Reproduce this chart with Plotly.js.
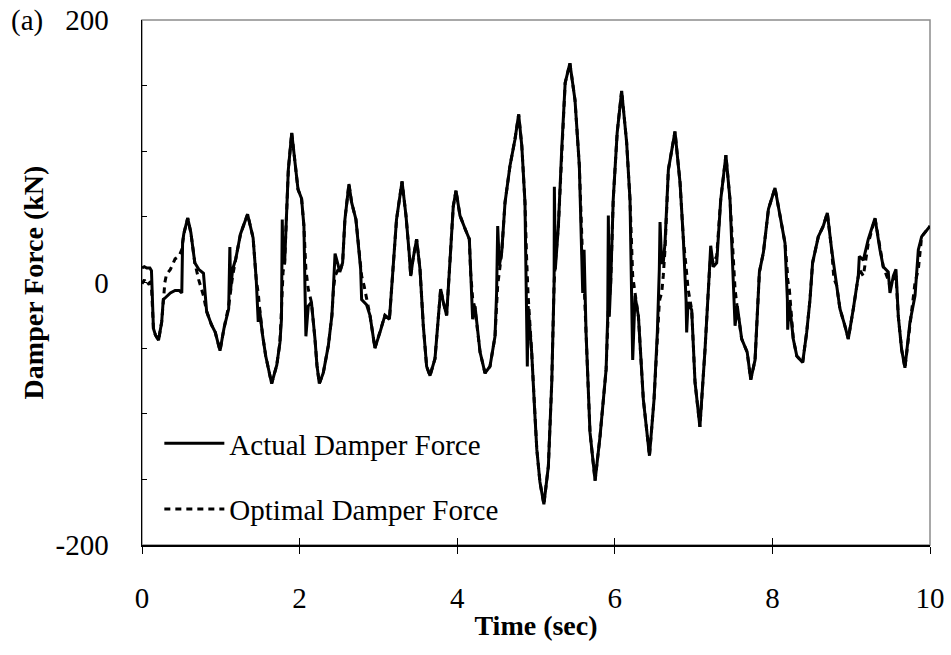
<!DOCTYPE html>
<html>
<head>
<meta charset="utf-8">
<script src="https://cdn.plot.ly/plotly-3.0.1.min.js"></script>
<style>html,body{margin:0;padding:0;background:#fff;}#chart{width:951px;height:655px;}</style>
</head>
<body>
<div id="chart"></div>
<script>
// Time (sec)
var time = [0.00,0.03,0.06,0.10,0.12,0.145,0.17,0.21,0.25,0.27,0.29,0.31,0.36,0.42,0.47,0.505,0.515,0.53,0.58,0.62,0.67,0.72,0.78,0.82,0.88,0.93,0.99,1.04,1.10,1.115,1.125,1.15,1.19,1.25,1.34,1.41,1.45,1.475,1.49,1.53,1.57,1.645,1.71,1.75,1.77,1.78,1.79,1.81,1.835,1.857,1.90,1.94,1.98,2.025,2.055,2.068,2.08,2.11,2.15,2.195,2.22,2.25,2.30,2.365,2.41,2.43,2.45,2.49,2.51,2.546,2.575,2.626,2.66,2.715,2.757,2.775,2.787,2.82,2.85,2.893,2.956,3.02,3.083,3.14,3.18,3.23,3.30,3.35,3.39,3.41,3.44,3.485,3.528,3.57,3.612,3.655,3.718,3.76,3.79,3.824,3.866,3.91,3.95,3.985,4.035,4.10,4.154,4.17,4.196,4.226,4.29,4.353,4.416,4.48,4.50,4.514,4.535,4.565,4.607,4.67,4.733,4.78,4.82,4.86,4.88,4.89,4.90,4.945,4.987,5.01,5.05,5.10,5.157,5.20,5.23,5.233,5.245,5.284,5.326,5.37,5.43,5.495,5.55,5.58,5.593,5.61,5.635,5.685,5.75,5.813,5.89,5.91,5.918,5.93,5.948,5.98,6.03,6.087,6.15,6.193,6.214,6.227,6.257,6.30,6.362,6.44,6.498,6.54,6.565,6.574,6.595,6.615,6.637,6.68,6.764,6.828,6.87,6.904,6.912,6.93,6.976,7.018,7.08,7.145,7.20,7.217,7.25,7.293,7.344,7.41,7.462,7.505,7.526,7.555,7.61,7.68,7.725,7.78,7.835,7.886,7.95,8.033,8.097,8.16,8.19,8.194,8.215,8.265,8.31,8.384,8.435,8.477,8.51,8.583,8.646,8.697,8.752,8.78,8.815,8.857,8.92,8.963,9.027,9.09,9.103,9.154,9.217,9.302,9.365,9.407,9.47,9.492,9.535,9.568,9.598,9.64,9.682,9.746,9.81,9.852,9.894,10.0];

// Actual Damper Force (kN)
var actualForce = [11,12,11,11,9,-35,-40,-44,-30,-13,-12,-11,-8,-6,-6,-8,30,37,49,38,15,10,7,-22,-32,-38,-52,-35,-20,27,-5,10,18,37,52,34,2,-30,-20,-40,-56,-77,-63,-46,-28,48,15,15,48,86,114,91,71,64,43,-3,-41,-18,-15,-43,-63,-77,-69,-48,-25,-3,22,13,8,15,48,75,61,48,25,10,-13,-15,-17,-25,-50,-38,-25,-28,5,48,77,51,23,5,18,33,10,-33,-64,-71,-58,-28,-5,-15,-25,18,58,70,51,41,33,10,-28,-18,-53,-69,-64,-41,-8,43,13,23,61,89,109,128,104,61,-3,-64,-18,-53,-102,-127,-152,-169,-140,-76,0,73,10,43,101,152,167,139,89,33,-8,25,-38,-114,-151,-117,-66,-26,51,-26,0,63,114,146,107,63,0,-59,-10,-26,-89,-132,-89,-38,10,46,15,15,30,86,115,76,33,-13,-38,-15,-21,-76,-110,-51,8,28,12,15,63,97,63,0,-33,-18,-43,-53,-74,-59,8,23,56,72,51,30,-13,-36,-15,-43,-56,-61,-38,-13,15,35,43,53,25,12,0,-20,-33,-43,-20,5,20,17,33,49,25,12,8,-8,5,10,-26,-51,-65,-30,-10,25,35,43];

// Optimal Damper Force (kN)
var optimalForce = [-1,2,-2,0,-3,-35,-40,-44,-30,-13,0,6,10,18,20,25,32,37,49,38,15,2,-10,-22,-32,-38,-52,-35,-18,-10,-4,5,18,37,52,34,2,-8,-18,-40,-56,-77,-63,-46,-20,-5,8,15,48,86,114,91,71,64,43,25,10,-5,-15,-43,-63,-77,-69,-48,-25,-5,5,10,8,15,48,75,61,48,25,15,5,-3,-12,-25,-50,-38,-25,-28,5,48,77,51,23,5,18,33,10,-33,-64,-71,-58,-28,-5,-15,-25,18,58,70,51,41,33,8,-12,-20,-53,-69,-64,-41,-10,-2,8,23,61,89,109,128,104,61,20,5,-10,-53,-102,-127,-152,-169,-140,-76,0,3,15,43,101,152,167,139,89,33,15,0,-38,-114,-151,-117,-66,-26,-20,-14,0,63,114,146,107,63,20,5,-8,-26,-89,-132,-89,-38,-15,-12,-8,5,25,86,115,76,33,12,5,-5,-21,-76,-110,-51,8,20,15,20,63,97,63,12,-5,-20,-43,-53,-74,-59,8,23,56,72,51,30,8,2,-5,-43,-56,-61,-38,-13,15,35,43,53,25,3,-2,-20,-33,-43,-20,5,10,5,30,49,25,12,2,-3,0,5,-26,-51,-65,-30,0,10,35,43];

var seriesNames = ['Actual Damper Force', 'Optimal Damper Force'];
var yTickVals = [-200,-150,-100,-50,0,50,100,150,200];
var yTickText = ['-200','','','','0','','','','200'];
var xTickVals = [0,2,4,6,8,10];

var serif = '"Liberation Serif", "Times New Roman", serif';

var traces = [
  {x: time, y: actualForce, type: 'scatter', mode: 'lines', name: seriesNames[0],
   legendgroup: 'a', line: {color: '#000', width: 3}},
  {x: time, y: optimalForce, type: 'scatter', mode: 'lines', name: seriesNames[1],
   legendgroup: 'b', line: {color: '#000', width: 3, dash: '6px,5px'}}
];

var layout = {
  width: 951, height: 655,
  margin: {l: 142, r: 21, t: 20, b: 110},
  paper_bgcolor: '#fff', plot_bgcolor: '#fff',
  font: {family: serif, size: 29, color: '#000'},
  showlegend: true,
  legend: {x: 0.022, y: 0.242, xanchor: 'left', yanchor: 'top', bgcolor: 'rgba(0,0,0,0)',
           font: {family: serif, size: 29, color: '#000'}, tracegroupgap: 25, itemwidth: 60},
  xaxis: {range: [0, 10], tickvals: xTickVals, ticks: 'outside', ticklen: 7, tickwidth: 1,
          tickcolor: '#000', showline: true, linecolor: '#000', linewidth: 1.5,
          showgrid: false, zeroline: false, ticklabelstandoff: 20,
          tickfont: {family: serif, size: 29, color: '#000'},
          title: {text: '<b>Time (sec)</b>', font: {family: serif, size: 28, color: '#000'}, standoff: 2}},
  xaxis2: {range: [0, 10], overlaying: 'x', anchor: 'y', side: 'bottom', tickvals: xTickVals,
           ticks: 'inside', ticklen: 7, tickwidth: 1, tickcolor: '#000', showticklabels: false,
           showline: false, showgrid: false, zeroline: false},
  yaxis: {range: [-200, 200], tickvals: yTickVals, ticktext: yTickText, ticks: 'inside',
          ticklen: 5, tickwidth: 1, tickcolor: '#000', showline: true, linecolor: '#000',
          linewidth: 1.5, showgrid: false, zeroline: false, ticklabelstandoff: 26,
          tickfont: {family: serif, size: 29, color: '#000'},
          title: {text: '<b>Damper Force (kN)</b>', font: {family: serif, size: 28, color: '#000'}, standoff: 3}},
  shapes: [{type: 'rect', xref: 'paper', yref: 'paper', x0: 0, x1: 1, y0: 0, y1: 1,
            line: {color: '#8c8c8c', width: 1.5}, layer: 'below'}],
  annotations: [{text: '(a)', xref: 'paper', yref: 'paper', x: -0.123, y: 1.0, xanchor: 'right',
                 yanchor: 'middle', showarrow: false, font: {family: serif, size: 29, color: '#000'}}]
};

// empty trace so the overlaid tick axis renders
traces.push({x: [], y: [], xaxis: 'x2', yaxis: 'y', showlegend: false, hoverinfo: 'skip'});

Plotly.newPlot('chart', traces, layout, {displayModeBar: false, staticPlot: true});
</script>
</body>
</html>
